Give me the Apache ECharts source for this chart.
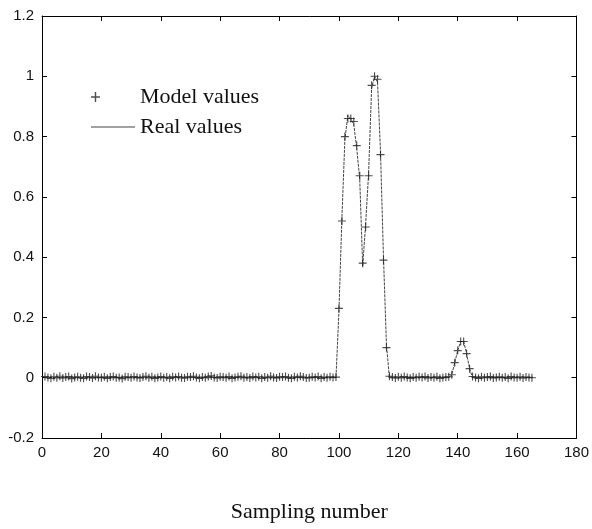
<!DOCTYPE html>
<html>
<head>
<meta charset="utf-8">
<script src="https://cdn.jsdelivr.net/npm/echarts@6/dist/echarts.min.js"></script>
<style>html,body{margin:0;padding:0;background:#fff}#c{width:592px;height:529px}</style>
</head>
<body>
<div id="c"></div>
<script>
// Sampling numbers 1..165
const samples = [
  1,2,3,4,5,6,7,8,9,10,11,12,13,14,15,16,17,18,19,20,
  21,22,23,24,25,26,27,28,29,30,31,32,33,34,35,36,37,38,39,40,
  41,42,43,44,45,46,47,48,49,50,51,52,53,54,55,56,57,58,59,60,
  61,62,63,64,65,66,67,68,69,70,71,72,73,74,75,76,77,78,79,80,
  81,82,83,84,85,86,87,88,89,90,91,92,93,94,95,96,97,98,99,100,
  101,102,103,104,105,106,107,108,109,110,111,112,113,114,115,116,117,118,119,120,
  121,122,123,124,125,126,127,128,129,130,131,132,133,134,135,136,137,138,139,140,
  141,142,143,144,145,146,147,148,149,150,151,152,153,154,155,156,157,158,159,160,
  161,162,163,164,165
];
// Model values (+ markers)
const modelValues = [
  0.004,0.001,-0.002,0.003,0.000,0.005,-0.001,0.002,0.004,-0.003,
  0.001,0.003,0.000,-0.002,0.004,0.002,-0.001,0.005,0.001,0.000,
  0.003,-0.002,0.002,0.004,0.000,0.001,-0.003,0.003,0.002,0.000,
  0.004,0.001,-0.001,0.002,0.005,0.000,0.003,-0.002,0.001,0.004,
  0.000,0.002,-0.002,0.003,0.001,0.004,0.000,-0.001,0.003,0.002,
  0.005,0.001,-0.002,0.002,0.000,0.004,0.006,0.001,-0.001,0.003,
  0.002,0.000,0.004,-0.002,0.001,0.003,0.005,0.000,0.002,-0.001,
  0.004,0.001,0.003,-0.002,0.002,0.000,0.005,0.001,-0.001,0.003,
  0.002,0.004,0.000,-0.002,0.003,0.001,0.005,0.002,-0.001,0.000,
  0.003,0.001,0.004,-0.002,0.002,0.000,0.003,0.001,0.002,0.23,
  0.52,0.80,0.86,0.86,0.85,0.77,0.67,0.38,0.50,0.67,
  0.97,1.00,0.99,0.74,0.39,0.10,0.005,0.002,-0.001,0.003,
  0.000,0.004,0.001,-0.002,0.002,0.000,0.003,0.001,0.004,-0.001,
  0.002,0.000,0.003,-0.002,0.001,0.002,0.003,0.01,0.05,0.09,
  0.12,0.12,0.08,0.03,0.004,0.001,-0.002,0.003,0.000,0.002,
  0.004,-0.001,0.001,0.003,0.000,0.002,-0.002,0.004,0.001,0.000,
  0.003,-0.001,0.002,0.001,0.000
];
// Real values (line)
const realValues = [
  0,0,0,0,0,0,0,0,0,0, 0,0,0,0,0,0,0,0,0,0,
  0,0,0,0,0,0,0,0,0,0, 0,0,0,0,0,0,0,0,0,0,
  0,0,0,0,0,0,0,0,0,0, 0,0,0,0,0,0,0,0,0,0,
  0,0,0,0,0,0,0,0,0,0, 0,0,0,0,0,0,0,0,0,0,
  0,0,0,0,0,0,0,0,0,0, 0,0,0,0,0,0,0,0,0,0.22,
  0.53,0.79,0.87,0.86,0.84,0.76,0.66,0.37,0.51,0.68,
  0.96,1.00,0.98,0.75,0.40,0.11,0,0,0,0,
  0,0,0,0,0,0,0,0,0,0, 0,0,0,0,0,0,0,0.01,0.05,0.09,
  0.12,0.12,0.08,0.03,0,0,0,0,0,0,
  0,0,0,0,0,0,0,0,0,0, 0,0,0,0,0
];
const xTicks = { min: 0, max: 180, interval: 20 };
const yTicks = { min: -0.2, max: 1.2, interval: 0.2 };
const seriesNames = ['Model values', 'Real values'];
const xTitle = 'Sampling number';

const modelData = samples.map((s, i) => [s, modelValues[i]]);
const realData = samples.map((s, i) => [s, realValues[i]]);

const plusPath = 'path://M0,4.3h10v1.4h-10z M4.3,0h1.4v10h-1.4z';
const plusLegend = 'path://M0,4.3h9v1.4h-9z M3.8,0h1.4v10h-1.4z M43.9,4.9h0.1v0.1h-0.1z';

function axisBase() {
  return {
    axisLine: { show: true, onZero: false, lineStyle: { color: '#000', width: 1 } },
    axisTick: { show: true, inside: true, length: 5, lineStyle: { color: '#000' } },
    splitLine: { show: false }
  };
}

const chart = echarts.init(document.getElementById('c'), null, { renderer: 'canvas' });
chart.setOption({
  backgroundColor: '#fff',
  animation: false,
  grid: { left: 42, right: 14, top: 16, bottom: 91 },
  legend: {
    orient: 'vertical', left: 86, top: 81, itemWidth: 44, itemHeight: 10, itemGap: 8,
    textStyle: { fontFamily: 'Liberation Serif', fontSize: 22, color: '#111' },
    data: [
      { name: seriesNames[0], icon: plusLegend, itemStyle: { color: '#222' } },
      { name: seriesNames[1], icon: 'path://M0,4.5h44v1h-44z', itemStyle: { color: '#444' } }
    ]
  },
  xAxis: [
    Object.assign(axisBase(), {
      type: 'value', position: 'bottom', min: xTicks.min, max: xTicks.max, interval: xTicks.interval,
      axisLabel: { color: '#111', fontFamily: 'Liberation Sans', fontSize: 15, margin: 7 },
      name: xTitle, nameLocation: 'middle', nameGap: 63,
      nameTextStyle: { fontFamily: 'Liberation Serif', fontSize: 22, color: '#111' }
    }),
    Object.assign(axisBase(), {
      type: 'value', position: 'top', min: xTicks.min, max: xTicks.max, interval: xTicks.interval,
      axisLabel: { show: false }
    })
  ],
  yAxis: [
    Object.assign(axisBase(), {
      type: 'value', position: 'left', min: yTicks.min, max: yTicks.max, interval: yTicks.interval,
      axisLabel: { color: '#111', fontFamily: 'Liberation Sans', fontSize: 15, margin: 8 }
    }),
    Object.assign(axisBase(), {
      type: 'value', position: 'right', min: yTicks.min, max: yTicks.max, interval: yTicks.interval,
      axisLabel: { show: false }
    })
  ],
  series: [
    {
      name: seriesNames[1], type: 'line', data: realData, symbol: 'none', z: 2,
      lineStyle: { color: '#444', width: 1, type: [3, 1] }, itemStyle: { color: '#444' }
    },
    {
      name: seriesNames[0], type: 'scatter', data: modelData, symbol: plusPath, symbolSize: [8, 8], z: 3,
      itemStyle: { color: '#222' }
    }
  ]
});
</script>
</body>
</html>
